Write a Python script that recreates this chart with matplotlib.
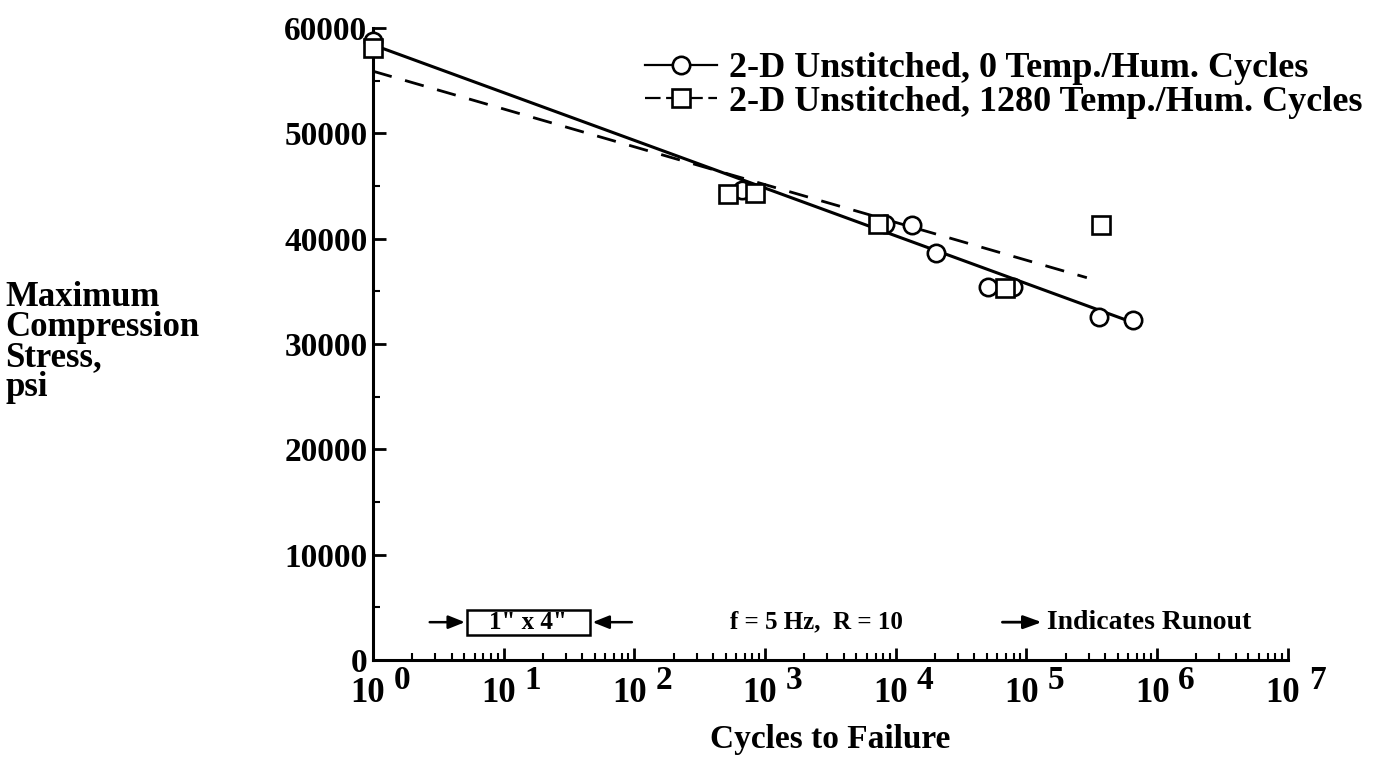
import numpy as np
import matplotlib
matplotlib.use('Agg')
import matplotlib.pyplot as plt
from matplotlib.patches import Rectangle
from matplotlib.ticker import FixedLocator, LogLocator, NullFormatter
from matplotlib.transforms import blended_transform_factory, offset_copy

plt.rcParams['font.family'] = ['Liberation Serif', 'DejaVu Serif']
plt.rcParams['font.weight'] = 'bold'

# ── Data ────────────────────────────────────────────────────────────
# 2-D unstitched, 0 temp./hum. cycles
n_0 = [1, 666, 8260, 13300, 20300, 50800, 78800, 359000, 653000]
s_0 = [58800, 44600, 41400, 41300, 38650, 35400, 35400, 32600, 32300]
# 2-D unstitched, 1280 temp./hum. cycles
n_1280 = [1, 520, 837, 7310, 68500, 370000]
s_1280 = [58100, 44250, 44300, 41400, 35300, 41300]

# fitted S-N lines (end points)
fit_0_n = [1, 7.4e5]
fit_0_s = [58400, 31800]
fit_1280_n = [1, 2.9e5]
fit_1280_s = [55900, 36300]

decades = list(range(0, 8))
LAB_0 = '2-D Unstitched, 0 Temp./Hum. Cycles'
LAB_1280 = '2-D Unstitched, 1280 Temp./Hum. Cycles'

fig = plt.figure(figsize=(13.84, 7.57), dpi=100)
ax = fig.add_axes([0.2695, 0.128, 0.661, 0.835])

ax.plot(fit_0_n, fit_0_s, '-', color='black', lw=2.2)
ax.plot(fit_1280_n, fit_1280_s, '--', color='black', lw=2.0, dashes=(7, 5))
ax.plot(n_0, s_0, 'o', mfc='white', mec='black', ms=12.5, mew=1.9, ls='none',
        clip_on=False, zorder=5)
ax.plot(n_1280, s_1280, 's', mfc='white', mec='black', ms=12.5, mew=1.9, ls='none',
        clip_on=False, zorder=6)

# legend proxies
h0, = ax.plot([], [], '-o', color='black', mfc='white', mec='black', ms=12.5, mew=1.9, lw=1.6)
h1, = ax.plot([], [], '--s', color='black', mfc='white', mec='black', ms=12.5, mew=1.9, lw=1.6,
              dashes=(7, 2.5))
leg = ax.legend([h0, h1], [LAB_0, LAB_1280], loc='upper left',
                bbox_to_anchor=(0.297, 0.962), frameon=False, fontsize=26,
                handlelength=2.0, handletextpad=0.33, labelspacing=0.0,
                borderaxespad=0.0, borderpad=0.0)

ax.set_xscale('log')
ax.set_xlim(1, 1e7)
ax.set_ylim(0, 60000)

ax.spines['top'].set_visible(False)
ax.spines['right'].set_visible(False)
for sp in ('left', 'bottom'):
    ax.spines[sp].set_linewidth(2.2)

ax.xaxis.set_major_locator(FixedLocator([10.0 ** k for k in decades]))
ax.xaxis.set_minor_locator(LogLocator(base=10, subs=np.arange(2, 10), numticks=20))
ax.xaxis.set_minor_formatter(NullFormatter())
ax.set_yticks(np.arange(0, 60001, 10000))
ax.set_yticks(np.arange(5000, 60000, 10000), minor=True)

ax.tick_params(axis='both', which='major', direction='in', length=9, width=2,
               labelsize=24)
ax.tick_params(axis='x', which='major', labelbottom=False)
ax.tick_params(axis='both', which='minor', direction='in', length=5, width=1.5)
ax.tick_params(axis='y', which='major', pad=4)
for t in ax.get_yticklabels():
    t.set_fontweight('bold')

# decade labels "10" with a large raised exponent
tr = blended_transform_factory(ax.transData, ax.transAxes)
for k in decades:
    base = offset_copy(tr, fig=fig, x=-5, y=-33, units='dots')
    ax.text(10.0 ** k, 0, '10', transform=base, ha='center', va='center',
            fontsize=25, fontweight='bold', clip_on=False)
    sup = offset_copy(tr, fig=fig, x=21, y=-20, units='dots')
    ax.text(10.0 ** k, 0, str(k), transform=sup, ha='left', va='center',
            fontsize=24, fontweight='bold', clip_on=False)

ax.set_xlabel('Cycles to Failure', fontsize=24, fontweight='bold')
ax.xaxis.set_label_coords(0.5, -0.101)
fig.text(0.004, 0.548, 'Maximum\nCompression\nStress,\npsi', ha='left',
         va='center', fontsize=25, fontweight='bold', linespacing=0.88)

# annotations along the bottom
ax.add_patch(Rectangle((0.1027, 0.0396), 0.1345, 0.0395, transform=ax.transAxes,
                       fc='white', ec='black', lw=1.8))
ax.text(0.1694, 0.060, '1" x 4"', transform=ax.transAxes, ha='center',
        va='center', fontsize=18, fontweight='bold')
head = '-|>,head_length=1.0,head_width=0.4'
ax.annotate('', xy=(0.1005, 0.060), xytext=(0.062, 0.060),
            xycoords='axes fraction',
            arrowprops=dict(arrowstyle=head, color='black', lw=1.8,
                            shrinkA=0, shrinkB=0))
ax.annotate('', xy=(0.240, 0.060), xytext=(0.283, 0.060),
            xycoords='axes fraction',
            arrowprops=dict(arrowstyle=head, color='black', lw=1.8,
                            shrinkA=0, shrinkB=0))
ax.text(0.485, 0.060, 'f = 5 Hz,  R = 10', transform=ax.transAxes,
        ha='center', va='center', fontsize=18, fontweight='bold')
ax.annotate('', xy=(0.731, 0.060), xytext=(0.688, 0.060),
            xycoords='axes fraction',
            arrowprops=dict(arrowstyle='-|>,head_length=1.1,head_width=0.4',
                            color='black', lw=2.0, shrinkA=0, shrinkB=0))
ax.text(0.737, 0.060, 'Indicates Runout', transform=ax.transAxes,
        ha='left', va='center', fontsize=20, fontweight='bold')

fig.savefig('out.png', dpi=100)
